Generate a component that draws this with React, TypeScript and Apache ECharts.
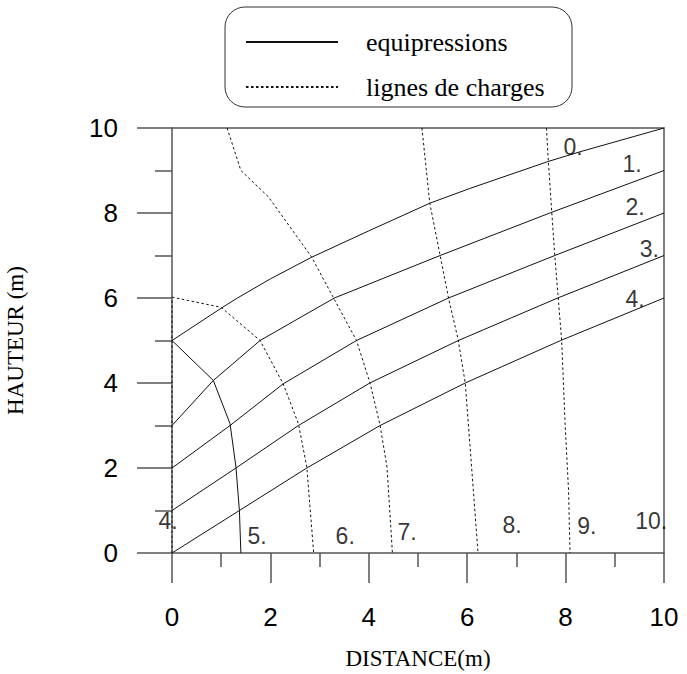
import React, { useEffect, useRef } from "react";
import * as echarts from "echarts";

// Equipressure curves (solid), [distance, height]
const equip0: number[][] = [[0, 5], [1.0, 5.76], [1.33, 6.0], [2.0, 6.45], [2.84, 6.96], [4.0, 7.58], [5.24, 8.23], [6.06, 8.58], [7.64, 9.21], [8.29, 9.44], [10, 10]];
const equip1: number[][] = [[0, 3], [0.84, 4.06], [1.79, 5.0], [3.3, 6.0], [5.45, 7.0], [7.68, 8.0], [10, 9]];
const equip2: number[][] = [[0, 2], [1.18, 3.0], [2.26, 3.98], [3.75, 5.0], [5.62, 6.0], [7.78, 7.0], [10, 8]];
const equip3: number[][] = [[0, 1], [1.3, 2.0], [2.57, 3.0], [4.02, 4.0], [5.82, 5.0], [7.84, 6.0], [10, 7]];
const equip4: number[][] = [[0, 0], [1.37, 1.0], [2.74, 2.0], [4.23, 3.0], [5.96, 4.0], [7.9, 5.0], [10, 6]];

// Charge lines (dashed), [distance, height]
const charge4: number[][] = [[0, 0], [0, 6]];
const charge5: number[][] = [[0, 5], [0.84, 4.06], [1.18, 3.04], [1.3, 2.02], [1.37, 1.0], [1.4, 0]];
const charge6: number[][] = [[0, 6.02], [1.0, 5.78], [1.79, 5.0], [2.26, 3.98], [2.57, 3.04], [2.74, 2.02], [2.88, 0]];
const charge7: number[][] = [[1.12, 10], [1.4, 9.0], [1.96, 8.38], [2.84, 6.96], [3.27, 6.03], [3.75, 5.0], [4.03, 3.98], [4.23, 3.0], [4.37, 2.02], [4.48, 0]];
const charge8: number[][] = [[5.08, 10], [5.24, 8.23], [5.45, 7.0], [5.62, 6.0], [5.82, 5.0], [5.96, 4.0], [6.1, 1.86], [6.22, 0]];
const charge9: number[][] = [[7.61, 10], [7.65, 9.21], [7.72, 8.0], [7.78, 7.0], [7.85, 6.0], [7.92, 5.0], [7.99, 3.04], [8.06, 1.47], [8.09, 0]];

// Curve labels
const labelText = ["0.", "1.", "2.", "3.", "4.", "4.", "5.", "6.", "7.", "8.", "9.", "10."];
const labelX = [8.15, 9.35, 9.41, 9.7, 9.41, -0.08, 1.73, 3.52, 4.78, 6.91, 8.43, 9.74];
const labelY = [9.55, 9.15, 8.14, 7.15, 5.98, 0.75, 0.4, 0.4, 0.49, 0.66, 0.64, 0.75];

const legendNames = ["equipressions", "lignes de charges"];
const axisMin = 0;
const axisMax = 10;
const axisStep = 2;

export default function App() {
  const ref = useRef<HTMLDivElement>(null);

  useEffect(() => {
    if (!ref.current) return;
    const chart = echarts.init(ref.current, undefined, { renderer: "svg" });
    const axisColor = "#555";
    const axisLineStyle = { color: axisColor, width: 1.5 };

    const solid = (name: string, data: number[][]) => ({
      type: "line",
      name,
      data,
      symbol: "none",
      showSymbol: false,
      silent: true,
      lineStyle: { color: "#111", width: 1, type: "solid" },
      itemStyle: { color: "#111" },
    });
    const dashed = (name: string, data: number[][]) => ({
      type: "line",
      name,
      data,
      symbol: "none",
      showSymbol: false,
      silent: true,
      lineStyle: { color: "#111", width: 1, type: [2.5, 2.5] },
      itemStyle: { color: "#111" },
    });

    const option: any = {
      animation: false,
      backgroundColor: "#fff",
      grid: {
        left: 172,
        right: 23,
        top: 128,
        bottom: 121,
        containLabel: false,
        outerBoundsMode: "none",
      },
      legend: {
        data: legendNames,
        orient: "vertical",
        left: 245,
        top: 29,
        itemWidth: 92,
        itemHeight: 14,
        itemGap: 19,
        padding: 0,
        selectedMode: false,
        itemStyle: { opacity: 0, borderWidth: 0 },
        textStyle: {
          fontFamily: "Liberation Serif",
          fontSize: 26,
          color: "#000",
          padding: [0, 0, 0, 23],
        },
      },
      graphic: [
        {
          type: "rect",
          silent: true,
          shape: { x: 225, y: 7, width: 347, height: 100, r: 20 },
          style: { fill: "none", stroke: "#333", lineWidth: 1 },
        },
      ],
      xAxis: [
        {
          type: "value",
          min: axisMin,
          max: axisMax,
          interval: axisStep,
          position: "bottom",
          name: "DISTANCE(m)",
          nameLocation: "middle",
          nameGap: 94,
          nameMoveOverlap: false,
          nameTextStyle: { fontFamily: "Liberation Serif", fontSize: 23, color: "#000" },
          axisLine: { show: true, onZero: false, lineStyle: axisLineStyle },
          axisTick: { show: true, length: 30, lineStyle: axisLineStyle },
          minorTick: { show: true, splitNumber: 2, length: 14, lineStyle: axisLineStyle },
          axisLabel: { margin: 51, fontFamily: "Liberation Sans", fontSize: 26, color: "#000" },
          splitLine: { show: false },
          minorSplitLine: { show: false },
        },
        {
          type: "value",
          min: axisMin,
          max: axisMax,
          position: "top",
          axisLine: { show: true, onZero: false, lineStyle: axisLineStyle },
          axisTick: { show: false },
          axisLabel: { show: false },
          splitLine: { show: false },
        },
      ],
      yAxis: [
        {
          type: "value",
          min: axisMin,
          max: axisMax,
          interval: axisStep,
          position: "left",
          name: "HAUTEUR (m)",
          nameLocation: "middle",
          nameGap: 145,
          nameMoveOverlap: false,
          nameTextStyle: { fontFamily: "Liberation Serif", fontSize: 23, color: "#000" },
          axisLine: { show: true, onZero: false, lineStyle: axisLineStyle },
          axisTick: { show: true, length: 35, lineStyle: axisLineStyle },
          minorTick: { show: true, splitNumber: 2, length: 17, lineStyle: axisLineStyle },
          axisLabel: { margin: 54, fontFamily: "Liberation Sans", fontSize: 26, color: "#000" },
          splitLine: { show: false },
          minorSplitLine: { show: false },
        },
        {
          type: "value",
          min: axisMin,
          max: axisMax,
          position: "right",
          axisLine: { show: true, onZero: false, lineStyle: axisLineStyle },
          axisTick: { show: false },
          axisLabel: { show: false },
          splitLine: { show: false },
        },
      ],
      series: [
        dashed(legendNames[1], charge4),
        dashed(legendNames[1], charge6),
        dashed(legendNames[1], charge7),
        dashed(legendNames[1], charge8),
        dashed(legendNames[1], charge9),
        solid(legendNames[1], charge5),
        solid(legendNames[0], equip0),
        solid(legendNames[0], equip1),
        solid(legendNames[0], equip2),
        solid(legendNames[0], equip3),
        solid(legendNames[0], equip4),
        {
          type: "scatter",
          name: "labels",
          clip: false,
          silent: true,
          symbol: "circle",
          symbolSize: 1,
          itemStyle: { color: "rgba(0,0,0,0)" },
          data: labelText.map((t, i) => ({ name: t, value: [labelX[i], labelY[i]] })),
          label: {
            show: true,
            formatter: "{b}",
            position: "inside",
            fontFamily: "Liberation Sans",
            fontSize: 23,
            color: "#000",
          },
          z: 5,
        },
      ],
    };
    chart.setOption(option);
    return () => chart.dispose();
  }, []);

  return (
    <div
      ref={ref}
      style={{ position: "fixed", left: 0, top: 0, width: 687, height: 674, background: "#fff" }}
    />
  );
}
